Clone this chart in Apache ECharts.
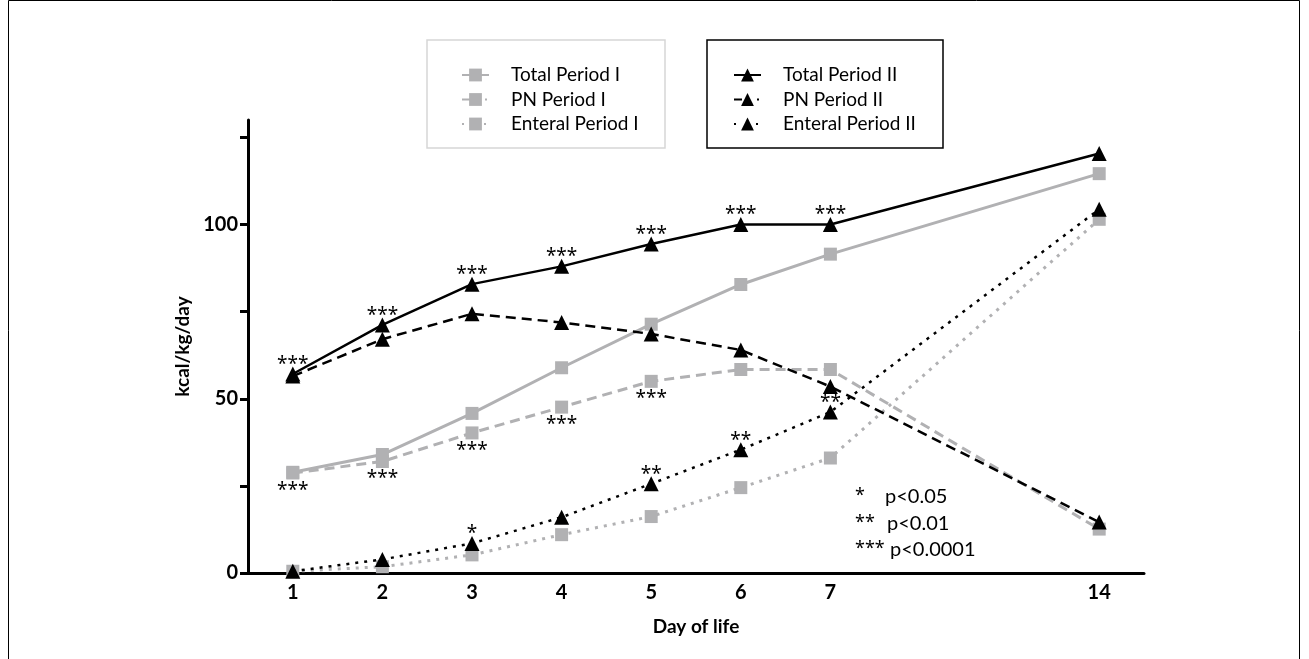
<!DOCTYPE html>
<html>
<head>
<meta charset="utf-8">
<script src="https://cdn.jsdelivr.net/npm/echarts@6/dist/echarts.min.js"></script>
<style>
html,body{margin:0;padding:0;background:#fff;}
#chart{width:1309px;height:659px;}
</style>
</head>
<body>
<div id="chart"></div>
<script>
// ---- data ----
const days = [1, 2, 3, 4, 5, 6, 7, 14];
// x-axis slots (two empty slots form the gap between day 7 and day 14)
const xSlots = ['1', '2', '3', '4', '5', '6', '7', '', ' ', '14'];
const yTicks = [0, 25, 50, 75, 100, 125];
const yLabels = [0, 50, 100];

const totalI    = [28.9, 34.0, 45.8, 58.9, 71.4, 82.8, 91.5, 114.6];
const pnI       = [28.7, 32.0, 40.2, 47.6, 55.0, 58.4, 58.4, 12.6];
const enteralI  = [0.5, 1.8, 5.2, 11.0, 16.2, 24.5, 33.0, 101.5];
const totalII   = [57.1, 71.2, 82.9, 88.0, 94.4, 100.0, 100.0, 120.4];
const pnII      = [56.5, 67.1, 74.4, 71.9, 68.6, 64.0, 53.5, 14.6];
const enteralII = [0.5, 3.9, 8.5, 16.0, 25.6, 35.4, 46.2, 104.4];

const starsTotalII   = ['***', '***', '***', '***', '***', '***', '***', ''];
const starsPNI       = ['***', '***', '***', '***', '***', '', '', ''];
const starsEnteralII = ['', '', '*', '', '**', '**', '**', ''];

const pKeyStars = ['*', '**', '***'];
const pKeyText  = ['p<0.05', 'p<0.01', 'p<0.0001'];

const legendI  = ['Total Period I', 'PN Period I', 'Enteral Period I'];
const legendII = ['Total Period II', 'PN Period II', 'Enteral Period II'];

// ---- build ----
const GRAY = '#b1b1b3';
const FONT = 'Lato';
const STARFONT = 'Noto Sans';
const DASH = [10, 6], DOT = [3, 6];
const legendDash = ['solid', [8, 15, 2, 10], [2, 20, 2, 10]];

function pts(vals, stars, pos) {
  return vals.map((v, i) => {
    const item = { value: [xSlots.indexOf(String(days[i])), v] };
    if (stars && stars[i]) {
      item.label = { show: true, formatter: stars[i], position: pos };
    }
    return item;
  });
}

function mkSeries(name, vals, color, type, symbol, size, stars, pos, z) {
  return {
    name: name, type: 'line', data: pts(vals, stars, pos),
    symbol: symbol, symbolSize: size, z: z,
    lineStyle: { color: color, width: color === GRAY ? 3 : 2.5, type: type },
    itemStyle: { color: color },
    label: { color: '#000', fontFamily: STARFONT, fontSize: 19, lineHeight: 20,
      distance: 0, offset: pos === 'bottom' ? [0, 1] : [0, 8] },
    emphasis: { disabled: true }
  };
}

const series = [
  mkSeries(legendI[0], totalI, GRAY, 'solid', 'rect', 13, null, null, 2),
  mkSeries(legendI[1], pnI, GRAY, DASH, 'rect', 13, starsPNI, 'bottom', 2),
  mkSeries(legendI[2], enteralI, GRAY, DOT, 'rect', 13, null, null, 2),
  mkSeries(legendII[0], totalII, '#000', 'solid', 'triangle', 15, starsTotalII, 'top', 3),
  mkSeries(legendII[1], pnII, '#000', DASH, 'triangle', 15, null, null, 3),
  mkSeries(legendII[2], enteralII, '#000', DOT, 'triangle', 15, starsEnteralII, 'top', 3)
];

const legendCommon = {
  orient: 'vertical', top: 60, itemWidth: 27, itemHeight: 16, itemGap: 4.5,
  selectedMode: false,
  textStyle: { fontFamily: FONT, fontSize: 19, color: '#000', lineHeight: 20, padding: [0, 0, 0, 17] }
};
function legendData(names) {
  return names.map((n, i) => ({ name: n, lineStyle: { type: legendDash[i] } }));
}

const graphics = [
  // outer frame
  { type: 'rect', shape: { x: 8.5, y: 0.5, width: 1291, height: 720 },
    style: { fill: 'none', stroke: '#000', lineWidth: 1 }, z: 0 },
  { type: 'rect', shape: { x: 427, y: 40, width: 238, height: 108 },
    style: { fill: 'none', stroke: '#d6d6d6', lineWidth: 1.5 }, z: 0 },
  { type: 'rect', shape: { x: 707, y: 40, width: 236, height: 108 },
    style: { fill: 'none', stroke: '#000', lineWidth: 1.5 }, z: 0 }
];
const pKeyX = [885, 887, 890];
pKeyStars.forEach((s, i) => {
  graphics.push({ type: 'text', left: 855, top: 487 + i * 26.5,
    style: { text: s, font: '18px "' + STARFONT + '"', fill: '#000' } });
  graphics.push({ type: 'text', left: pKeyX[i], top: 487 + i * 26.5,
    style: { text: pKeyText[i], font: '20px ' + FONT, fill: '#000' } });
});

const chart = echarts.init(document.getElementById('chart'), null, { renderer: 'canvas' });
chart.setOption({
  animation: false,
  backgroundColor: '#fff',
  grid: { left: 248, right: 165, top: 120, bottom: 86, containLabel: false },
  legend: [
    Object.assign({}, legendCommon, { left: 456, data: legendData(legendI) }),
    Object.assign({}, legendCommon, { left: 728, data: legendData(legendII) })
  ],
  xAxis: {
    type: 'category', data: xSlots, boundaryGap: true,
    name: 'Day of life', nameLocation: 'middle', nameGap: 44,
    nameTextStyle: { fontFamily: FONT, fontWeight: 'bold', fontSize: 19, color: '#000' },
    axisLine: { lineStyle: { color: '#000', width: 3 } },
    axisTick: { alignWithLabel: true, length: 6, lineStyle: { width: 3, color: '#000' },
      interval: (i, v) => v.trim() !== '' },
    axisLabel: { interval: (i, v) => v.trim() !== '', margin: 10,
      fontFamily: FONT, fontWeight: 'bold', fontSize: 20, color: '#000' },
    splitLine: { show: false }
  },
  yAxis: {
    type: 'value', min: 0, max: 130,
    name: 'kcal/kg/day', nameLocation: 'middle', nameGap: 36,
    nameTextStyle: { fontFamily: FONT, fontWeight: 'bold', fontSize: 19, color: '#000' },
    axisLine: { show: true, lineStyle: { color: '#000', width: 3 } },
    axisTick: { show: true, length: 8, lineStyle: { width: 3, color: '#000' }, customValues: yTicks },
    axisLabel: { customValues: yLabels, margin: 10,
      fontFamily: FONT, fontWeight: 'bold', fontSize: 20, color: '#000' },
    splitLine: { show: false }
  },
  graphic: graphics,
  series: series
});
</script>
</body>
</html>
